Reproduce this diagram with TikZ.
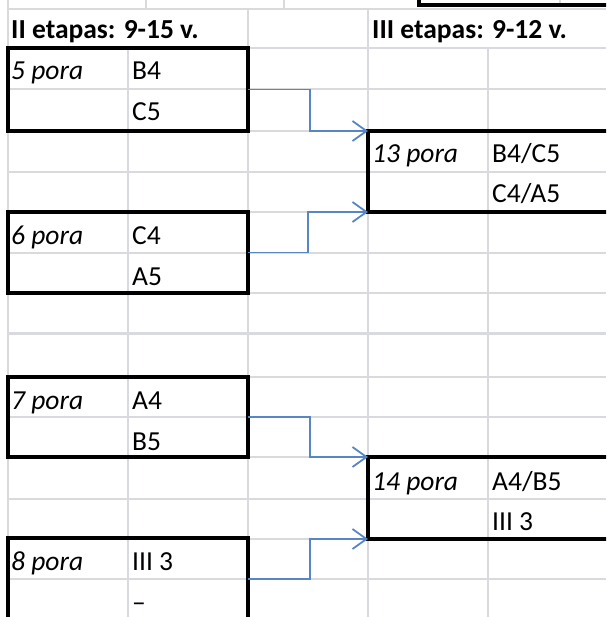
\documentclass[tikz,border=0pt]{standalone}
\usepackage{fontspec}
\setmainfont{Carlito}
\usetikzlibrary{arrows.meta}
\definecolor{gridgray}{RGB}{216,218,222}
\definecolor{linkblue}{RGB}{88,133,195}
\begin{document}
\begin{tikzpicture}[x=1pt, y=-1pt, inner sep=0pt,
		font=\fontsize{27.5}{30}\selectfont,
		gridstyle/.style={gridgray, line width=1.5pt},
		boxstyle/.style={draw, rectangle, line width=3.2pt, outer sep=0pt, anchor=north west},
		linkstyle/.style={linkblue, line width=1.8pt, -{Straight Barb[length=14pt, width=20pt]}},
		labelstyle/.style={anchor=base west}]

		\useasboundingbox (0,0) rectangle (606,617);
		\clip (0,0) rectangle (606,617);
		\fill[white] (0,0) rectangle (606,617);

		% sheet grid
		\foreach \y in {9, 48, 89, 131, 172, 212, 253, 293, 377, 417, 457, 499, 539, 579}
		{
			\draw[gridstyle] (8,\y) -- (606,\y);
		}
		\draw[gridstyle, line width=3pt] (8,333) -- (606,333);
		\foreach \x in {8, 248, 368}
		{
			\draw[gridstyle] (\x,9) -- (\x,617);
		}
		\foreach \x in {128, 488}
		{
			\draw[gridstyle] (\x,48) -- (\x,617);
		}
		\foreach \x in {8, 146, 284}
		{
			\draw[gridstyle] (\x,0) -- (\x,9);
		}
		\draw[gridstyle] (560,0) -- (560,4);
		\draw[line width=3.2pt] (419,-10) rectangle (640,5);

		% headers
		\node[labelstyle] (h2) at (11,39) {\bfseries II etapas: 9-15 v.};
		\node[labelstyle] (h3) at (372,39) {\bfseries III etapas: 9-12 v.};

		% II etapas
		\foreach \n/\y/\h/\first/\second in {5/48/83/B4/C5, 6/212/81/C4/A5, 7/377/80/A4/B5, 8/538/82/III 3/–}
		{
			\node[boxstyle, minimum width=240pt, minimum height=\h pt] (b\n) at (8,\y) {};
			\node[labelstyle] (p\n) at (11,\y+32) {\itshape \n\ pora};
			\node[labelstyle] (u\n) at (132,\y+32) {\first};
			\node[labelstyle] (l\n) at (132,\y+73) {\second};
		}

		% III etapas
		\node[boxstyle, minimum width=280pt, minimum height=81pt] (b13) at (368,131) {};
		\node[labelstyle] (p13) at (372,163) {\itshape 13 pora};
		\node[labelstyle] (u13) at (492,163) {B4/C5};
		\node[labelstyle] (l13) at (492,203) {C4/A5};

		\node[boxstyle, minimum width=280pt, minimum height=82pt] (b14) at (368,457) {};
		\node[labelstyle] (p14) at (372,490) {\itshape 14 pora};
		\node[labelstyle] (u14) at (492,490) {A4/B5};
		\node[labelstyle] (l14) at (492,530) {III 3};

		% links
		\draw[linkstyle] (b5.east) -- ++(62,0) |- (b13.north west);
		\draw[linkstyle] (b6.east) -- ++(60,0) |- (b13.south west);
		\draw[linkstyle] (b7.east) -- ++(62,0) |- (b14.north west);
		\draw[linkstyle] (b8.east) -- ++(62,0) |- (b14.south west);

		\end{tikzpicture}
\end{document}
